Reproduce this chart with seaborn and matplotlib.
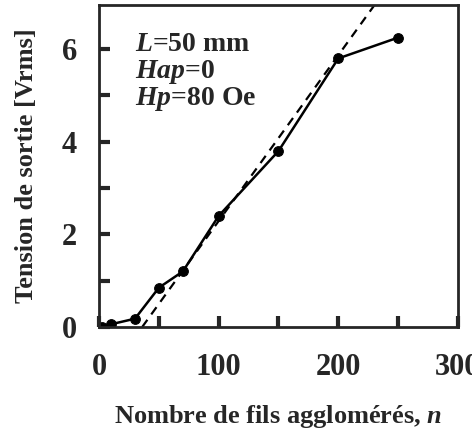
import numpy as np
import pandas as pd
import matplotlib
matplotlib.use('Agg')
import matplotlib.pyplot as plt
import seaborn as sns

# number of agglomerated wires vs output voltage
n_fils = [2, 10, 30, 50, 70, 100, 150, 200, 250]
tension = [0.0, 0.06, 0.18, 0.85, 1.2, 2.4, 3.8, 5.8, 6.25]

# linear fit (dashed)
fit_n = [36, 240]
fit_v = [0.0, 7.3]

df = pd.DataFrame({'n': n_fils, 'v': tension})
fit_df = pd.DataFrame({'n': fit_n, 'v': fit_v})

sns.set_style('ticks')
plt.rcParams['font.family'] = ['Liberation Serif', 'DejaVu Serif']
plt.rcParams['font.weight'] = 'bold'
plt.rcParams['mathtext.fontset'] = 'custom'
plt.rcParams['mathtext.it'] = 'Liberation Serif:italic:bold'

fig = plt.figure(figsize=(4.72, 4.32), dpi=100)
ax = fig.add_axes([0.21, 0.243, 0.76, 0.745])

sns.lineplot(x='n', y='v', data=fit_df, ax=ax, color='black', lw=1.6,
             linestyle=(0, (4, 3)))
sns.lineplot(x='n', y='v', data=df, ax=ax, color='black', lw=1.8,
             marker='o', markersize=7, markeredgecolor='black')

ax.set_xlim(0, 300)
ax.set_ylim(0, 6.95)
ax.set_xticks(np.arange(0, 301, 50))
ax.set_xticklabels(['0', '', '100', '', '200', '', '300'])
ax.set_yticks(np.arange(0, 7, 1))
ax.set_yticklabels(['0', '', '2', '', '4', '', '6'])
ax.tick_params(direction='in', length=8, width=3, labelsize=22)
ax.tick_params(axis='x', pad=19)
ax.tick_params(axis='y', pad=16)
for lab in ax.get_xticklabels() + ax.get_yticklabels():
    lab.set_fontweight('bold')
for sp in ax.spines.values():
    sp.set_linewidth(2)

ax.set_xlabel('Nombre de fils agglomérés, $\\mathit{n}$', fontsize=19,
              fontweight='bold', labelpad=15)
ax.set_ylabel('Tension de sortie [Vrms]', fontsize=19, fontweight='bold', labelpad=17)

txt = [r'$\mathit{L}$=50 mm', r'$\mathit{Hap}$=0', r'$\mathit{Hp}$=80 Oe']
for i, t in enumerate(txt):
    ax.text(0.1, 0.878 - i * 0.085, t, transform=ax.transAxes, fontsize=20,
            fontweight='bold', va='center')

fig.savefig('out.png', dpi=100)
